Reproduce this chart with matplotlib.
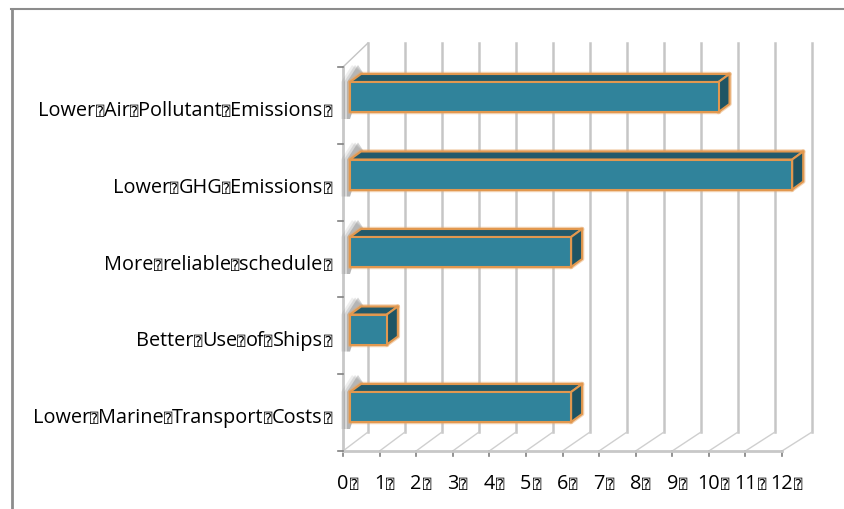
import matplotlib
matplotlib.use("Agg")
import matplotlib.pyplot as plt
from matplotlib.patches import Polygon

plt.rcParams["font.family"] = ["Open Sans", "DejaVu Sans", "DejaVu Sans Mono", "Noto Sans"]

# データ
categories = ["Lower Marine Transport Costs", "Better Use of Ships", "More reliable schedule",
              "Lower GHG Emissions", "Lower Air Pollutant Emissions"]
values = [6, 1, 6, 12, 10]
x_ticks = [0, 1, 2, 3, 4, 5, 6, 7, 8, 9, 10, 11, 12]

W, H = 844, 510
fig = plt.figure(figsize=(W / 100, H / 100), dpi=100)
# 軸の位置 (ピクセル指定)
left, right, top, bottom = 343, 782, 68, 452
ax = fig.add_axes([left / W, 1 - bottom / H, (right - left) / W, (bottom - top) / H])
ax.set_xlim(0, 12)
ax.set_ylim(0, 5)
ax.axis("off")

px = 12 / (right - left)  # x 1px
py = 5 / (bottom - top)   # y 1px

# 外枠
fig.add_artist(plt.Line2D([11.5 / W, 11.5 / W], [0, 1 - 10 / H], color="#8c8c8c", lw=2))
fig.add_artist(plt.Line2D([10.5 / W, 1], [1 - 10 / H, 1 - 10 / H], color="#8c8c8c", lw=1.5))

# 奥の壁と床
dy = 19 * py
for v in x_ticks:
    bx = v + (25 + 0.42 * v) * px
    ax.plot([bx, bx], [dy, 5 + 24 * py], color="#c6c6c6", lw=1.8, clip_on=False, zorder=1)
    ax.plot([v, bx], [0, dy], color="#cfcfcf", lw=1, clip_on=False, zorder=1)
    ax.plot([v, v], [0, -5 * py], color="#808080", lw=1.2, clip_on=False, zorder=1)
ax.plot([0, 12], [0, 0], color="#c8c8c8", lw=2, clip_on=False, zorder=1)
ax.plot([0, 0], [0, 5], color="#c8c8c8", lw=2, clip_on=False, zorder=1)
ax.plot([0, 25 * px], [5, 5 + 24 * py], color="#c4c4c4", lw=1, clip_on=False, zorder=1)
for i in range(6):
    ax.plot([-5 * px, 0], [i, i], color="#808080", lw=1.2, clip_on=False, zorder=1)

# 3D の棒
x0 = 7 * px
sx = 36.85 * px
bh = 30 * py
bdx, bdy = 11 * px, 8 * py
for i, v in enumerate(values):
    y0 = (29 + i * 77.5) * py
    x1 = x0 + v * sx
    # 左の影
    for g, a in [(9, 0.10), (6, 0.16), (3, 0.28)]:
        ax.add_patch(Polygon([(x0 - g * px, y0 - 7 * py), (x0 - g * px, y0 + bh),
                              (x0 + bdx - g * px, y0 + bh + bdy + 9 * py), (x0 + bdx + 3 * px, y0 + bh + bdy),
                              (x0, y0 - 7 * py)],
                             closed=True, fc="#606060", ec="none", alpha=a, zorder=2, clip_on=False))
    faces = [([(x0, y0 + bh), (x1, y0 + bh), (x1 + bdx, y0 + bh + bdy), (x0 + bdx, y0 + bh + bdy)], "#225a6b"),
             ([(x1, y0), (x1 + bdx, y0 + bdy), (x1 + bdx, y0 + bh + bdy), (x1, y0 + bh)], "#1f5564"),
             ([(x0, y0), (x1, y0), (x1, y0 + bh), (x0, y0 + bh)], "#30839b")]
    for pts, col in faces:
        # にじみ
        ax.add_patch(Polygon(pts, closed=True, fc="none", ec="#e8a868", lw=3.2, alpha=0.5,
                             joinstyle="round", clip_on=False, zorder=3))
    for pts, col in faces:
        ax.add_patch(Polygon(pts, closed=True, fc=col, ec="#e2984f", lw=1.5,
                             joinstyle="round", clip_on=False, zorder=3))

# ラベル (元画像の文字化けボックスも文字のまま)
box = "\u2370"
font_size = 14.3
box_size = 10
fig.canvas.draw()
rend = fig.canvas.get_renderer()


def width_of(t):
    return t.get_window_extent(rend).width


for i, c in enumerate(categories):
    # 右端から単語を順に置く
    y = i + 0.5 - 9.6 * py
    x_px = -11
    t = ax.text(x_px * px, y, box, ha="right", va="baseline", fontsize=box_size, clip_on=False)
    x_px -= width_of(t) + 1
    words = c.split(" ")
    for word in reversed(words):
        t = ax.text(x_px * px, y, word, ha="right", va="baseline", fontsize=font_size, color="black", clip_on=False)
        x_px -= width_of(t)
        if word != words[0]:
            t = ax.text(x_px * px, y, box, ha="right", va="baseline", fontsize=box_size, clip_on=False)
            x_px -= width_of(t)

for v in x_ticks:
    t = ax.text(v, -37 * py, str(v), ha="center", va="baseline", fontsize=font_size, color="black", clip_on=False)
    ax.text(v + (width_of(t) / 2 + 1) * px, -37 * py, box, ha="left", va="baseline", fontsize=box_size, clip_on=False)

fig.savefig("out.png", dpi=100)
